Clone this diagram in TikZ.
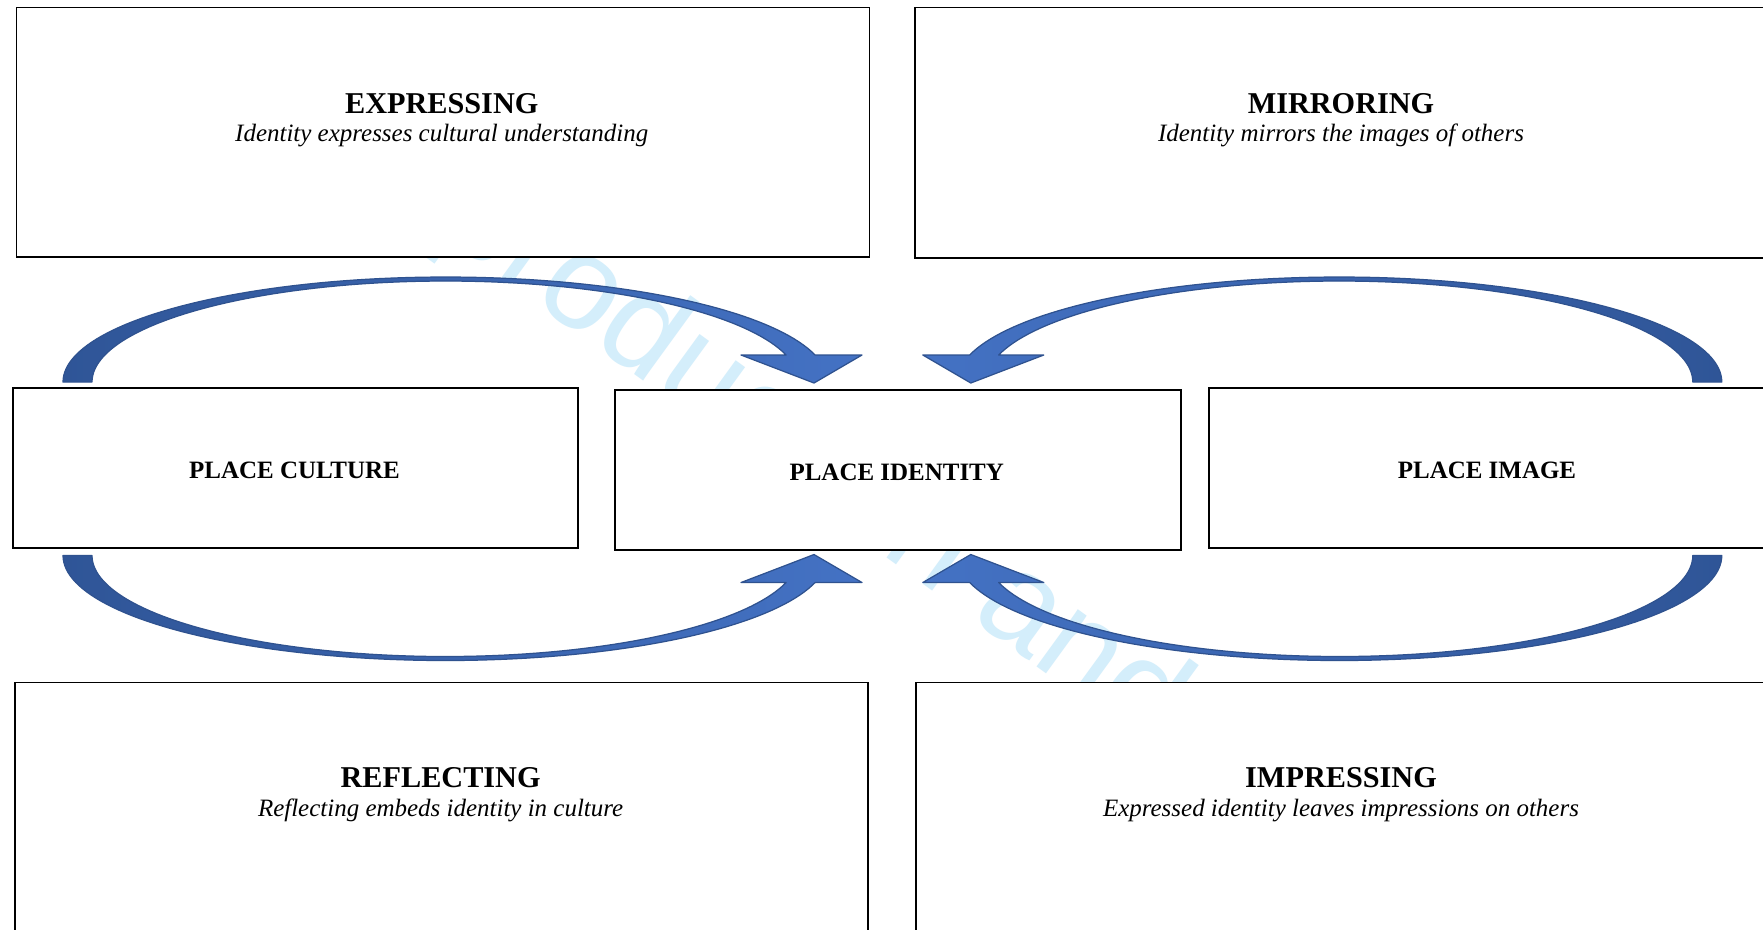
\documentclass[tikz,border=0pt]{standalone}
\usepackage{fontspec}
\setmainfont{Liberation Serif}
\newfontfamily\wmfont{Liberation Sans}
\definecolor{arrowblue}{HTML}{4472C4}
\definecolor{arrowdark}{HTML}{2F5597}
\definecolor{arrowline}{HTML}{2F528F}
\definecolor{wmblue}{RGB}{212,238,251}
\newcommand\blockarc[2]{%
  \shadedraw[left color=#1, right color=#2, draw=arrowline, line width=0.35pt, line join=round]
  (63,-382) -- plot[domain=180:14.9, samples=90] ({445.5+382.5*cos(\x)},{-382+105*sin(\x)})
  -- (862,-355) -- (814,-383) -- (741,-355) -- (786,-355)
  -- plot[domain=15.5:180, samples=90] ({445.5+353.5*cos(\x)},{-382+101*sin(\x)}) -- cycle;}
\tikzset{
  box/.style={draw=black, fill=white, line width=0.5pt, inner sep=0pt, anchor=north west},
  titletext/.style={font=\fontsize{8.6}{10}\selectfont\bfseries, anchor=base, inner sep=0pt},
  subtext/.style={font=\fontsize{7.1}{9}\selectfont\itshape, anchor=base, inner sep=0pt},
  placetext/.style={font=\fontsize{7.1}{9}\selectfont\bfseries},
  wm/.style={font=\wmfont\fontsize{38}{42}\selectfont, text=wmblue, inner sep=0pt}
}
\begin{document}
\begin{tikzpicture}[x=0.01cm, y=0.01cm]
\useasboundingbox (0,0) rectangle (1763,-929);
\clip (0,0) rectangle (1763,-929);
\fill[white] (0,0) rectangle (1763,-929);
% watermark
\node[wm, rotate=-36, anchor=base west] (watermark) at (338,-159) {reproduction and};
% curved block arrows
\blockarc{arrowdark}{arrowblue}
\begin{scope}[shift={(1784.8,0)}, xscale=-1]
  \blockarc{arrowblue}{arrowdark}
\end{scope}
\begin{scope}[shift={(0,-937.5)}, yscale=-1]
  \blockarc{arrowdark}{arrowblue}
\end{scope}
\begin{scope}[shift={(1784.8,-937.5)}, xscale=-1, yscale=-1]
  \blockarc{arrowblue}{arrowdark}
\end{scope}
% boxes
\node[box, minimum width=8.525cm, minimum height=2.493cm] (expr) at (15.5,-6.7) {};
\node[box, minimum width=8.53cm, minimum height=2.50cm] (mirr) at (914,-6.7) {};
\node[box, minimum width=5.65cm, minimum height=1.60cm] (cult) at (12,-387.3) {};
\node[box, minimum width=5.655cm, minimum height=1.603cm] (iden) at (614,-389) {};
\node[box, minimum width=5.58cm, minimum height=1.60cm] (imag) at (1208,-387.3) {};
\node[box, minimum width=8.524cm, minimum height=2.50cm] (refl) at (14.4,-681.7) {};
\node[box, minimum width=8.52cm, minimum height=2.50cm] (impr) at (915,-681.7) {};
% texts
\node[titletext] (exprT) at (441.75,-113.3) {EXPRESSING};
\node[subtext] (exprS) at (441.75,-141.7) {Identity expresses cultural understanding};
\node[titletext] (mirrT) at (1341,-113.3) {MIRRORING};
\node[subtext] (mirrS) at (1341,-141.7) {Identity mirrors the images of others};
\node[titletext] (reflT) at (440.6,-787.7) {REFLECTING};
\node[subtext] (reflS) at (440.6,-816.7) {Reflecting embeds identity in culture};
\node[titletext] (imprT) at (1341,-787.7) {IMPRESSING};
\node[subtext] (imprS) at (1341,-816.7) {Expressed identity leaves impressions on others};
\node[placetext, anchor=base] (cultT) at (294.5,-478.3) {PLACE CULTURE};
\node[placetext, anchor=base] (idenT) at (896.75,-480) {PLACE IDENTITY};
\node[placetext, anchor=base] (imagT) at (1487,-478.3) {PLACE IMAGE};
\end{tikzpicture}
\end{document}
